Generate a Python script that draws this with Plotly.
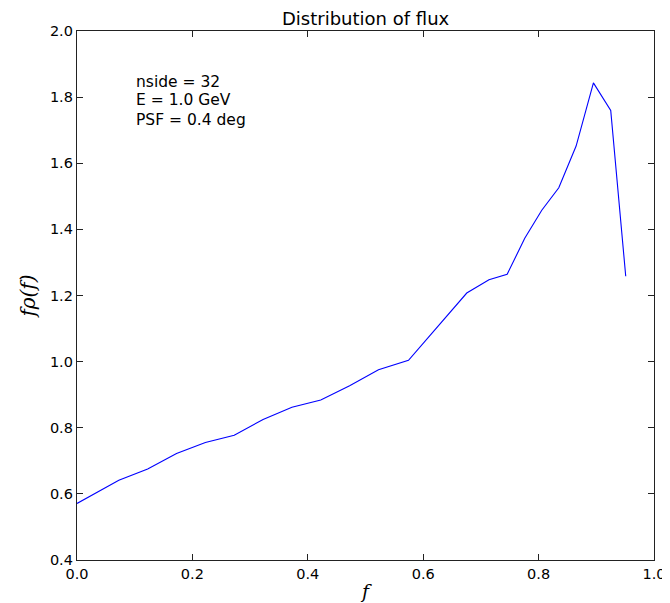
import plotly.graph_objects as go

f_vals = [0.0, 0.0725, 0.1225, 0.1725, 0.2225, 0.2725, 0.3225, 0.3725, 0.4225, 0.4725,
          0.5225, 0.5745, 0.6755, 0.714, 0.7455, 0.776, 0.8055, 0.835, 0.865, 0.895, 0.925, 0.951]
frho_vals = [0.571, 0.641, 0.675, 0.722, 0.7555, 0.7776, 0.825, 0.862, 0.884, 0.927,
             0.9755, 1.004, 1.2075, 1.2476, 1.264, 1.373, 1.458, 1.526, 1.652, 1.843, 1.760, 1.258]

x_ticks = [0.0, 0.2, 0.4, 0.6, 0.8, 1.0]
y_ticks = [0.4, 0.6, 0.8, 1.0, 1.2, 1.4, 1.6, 1.8, 2.0]
info_lines = ["nside = 32", "E = 1.0 GeV", "PSF = 0.4 deg"]
info_y = [1.845, 1.79, 1.73]
title_text = "Distribution of flux"

fig = go.Figure()
fig.add_trace(go.Scatter(x=f_vals, y=frho_vals, mode="lines",
                         line=dict(color="#0000ff", width=1.1), showlegend=False))

font = dict(family="DejaVu Sans", size=14.5, color="black")
axis_common = dict(showgrid=False, zeroline=False, showline=True, linecolor="#222222",
                   linewidth=1.3, mirror="ticks", ticks="inside", ticklen=6, tickwidth=1,
                   tickcolor="#222222", tickfont=font)

fig.update_layout(
    width=670, height=603,
    margin=dict(l=69, r=14, t=23, b=49),
    plot_bgcolor="white", paper_bgcolor="white",
    font=font,
    xaxis=dict(range=[0, 1], tickvals=x_ticks, ticktext=[f"{v:.1f}" for v in x_ticks],
               title=dict(text="<i>f</i>", font=dict(family="DejaVu Serif", size=19), standoff=4),
               **axis_common),
    yaxis=dict(range=[0.4, 2.0], tickvals=y_ticks, ticktext=[f"{v:.1f}" for v in y_ticks],
               title=dict(text="<i>fρ(f)</i>", font=dict(family="DejaVu Serif", size=20), standoff=8),
               **axis_common),
)

fig.add_annotation(text=title_text, xref="paper", yref="paper", x=0.5, y=1.0,
                   xanchor="center", yanchor="bottom", showarrow=False,
                   font=dict(family="DejaVu Sans", size=18, color="black"))

for line, yv in zip(info_lines, info_y):
    fig.add_annotation(text=line, xref="x", yref="y", x=0.1, y=yv,
                       xanchor="left", yanchor="middle", align="left", showarrow=False,
                       borderpad=0, font=dict(family="DejaVu Sans", size=15.5, color="black"))

fig.write_html("out.html")
